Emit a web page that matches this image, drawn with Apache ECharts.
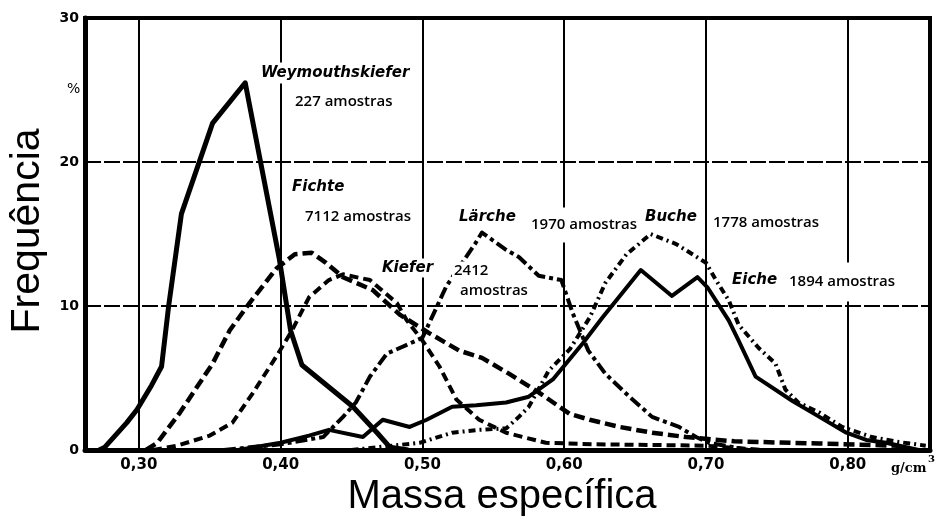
<!DOCTYPE html>
<html><head><meta charset="utf-8">
<script src="https://cdn.jsdelivr.net/npm/echarts@6/dist/echarts.min.js"></script>
<style>html,body{margin:0;padding:0;background:#fff}#c{width:939px;height:520px}</style>
</head><body><div id="c"></div>
<script>
// ---- data ----
const xTicks = [0.30, 0.40, 0.50, 0.60, 0.70, 0.80];
const yTicks = [0, 10, 20, 30];
const seriesNames = ['Weymouthskiefer', 'Fichte', 'Kiefer', 'Lärche', 'Buche', 'Eiche'];
const sampleCounts = ['227', '7112', '2412', '1970', '1778', '1894'];

const weymouth = [[0.272,0],[0.276,0.2],[0.2915,1.9],[0.2986,2.8],[0.309,4.5],[0.316,5.8],[0.321,10.0],[0.330,16.4],[0.352,22.7],[0.375,25.5],[0.399,13.3],[0.407,8.3],[0.415,5.9],[0.451,3.0],[0.468,1.2],[0.477,0.2],[0.49,0]];
const fichte = [[0.305,0],[0.313,0.5],[0.329,2.6],[0.352,6.0],[0.364,8.3],[0.378,10.2],[0.397,12.6],[0.41,13.6],[0.422,13.7],[0.432,13.0],[0.444,12.0],[0.465,11.1],[0.484,9.4],[0.505,8.1],[0.526,6.9],[0.542,6.4],[0.561,5.3],[0.582,4.0],[0.604,2.5],[0.618,2.1],[0.639,1.6],[0.662,1.2],[0.686,0.9],[0.72,0.6],[0.78,0.45],[0.835,0.3],[0.84,0]];
const kiefer = [[0.31,0],[0.327,0.3],[0.35,1.0],[0.366,1.9],[0.38,3.9],[0.397,6.5],[0.408,8.3],[0.42,10.6],[0.434,11.8],[0.444,12.2],[0.463,11.8],[0.482,10.2],[0.489,9.0],[0.50,7.6],[0.512,5.8],[0.524,3.5],[0.54,2.1],[0.559,1.2],[0.587,0.5],[0.62,0.4],[0.70,0.3],[0.74,0]];
const laerche = [[0.36,0],[0.40,0.4],[0.43,0.9],[0.444,2.3],[0.453,3.3],[0.463,5.1],[0.475,6.7],[0.489,7.3],[0.50,7.8],[0.517,11.4],[0.537,14.3],[0.542,15.1],[0.559,13.9],[0.568,13.4],[0.582,12.1],[0.598,11.8],[0.606,9.5],[0.617,6.9],[0.629,5.3],[0.646,3.7],[0.662,2.3],[0.681,1.6],[0.693,0.9],[0.702,0.5],[0.73,0]];
const buche = [[0.45,0],[0.498,0.5],[0.521,1.2],[0.54,1.4],[0.559,1.5],[0.568,2.3],[0.575,3.0],[0.589,5.5],[0.604,7.0],[0.618,9.2],[0.629,11.6],[0.644,13.6],[0.661,15.0],[0.679,14.3],[0.70,13.0],[0.707,11.8],[0.716,10.4],[0.723,8.7],[0.737,7.1],[0.749,6.0],[0.756,4.2],[0.765,3.3],[0.78,2.6],[0.796,1.6],[0.817,0.9],[0.836,0.55],[0.848,0.4],[0.855,0.3]];
const eiche = [[0.37,0],[0.40,0.5],[0.42,1.0],[0.434,1.4],[0.458,0.9],[0.472,2.1],[0.491,1.6],[0.503,2.1],[0.521,3.0],[0.538,3.1],[0.559,3.3],[0.575,3.7],[0.592,4.9],[0.613,7.4],[0.627,9.2],[0.654,12.5],[0.676,10.7],[0.694,12.0],[0.701,11.3],[0.716,9.0],[0.723,7.6],[0.735,5.1],[0.761,3.4],[0.78,2.3],[0.799,1.2],[0.813,0.7],[0.827,0.5],[0.85,0]];

// ---- chart ----
const chart = echarts.init(document.getElementById('c'), null, {renderer: 'canvas'});
const fmt = v => v.toFixed(2).replace('.', ',');

function line(name, data, width, type) {
  return {
    name, type: 'line', data, symbol: 'none', smooth: false, z: 5,
    lineStyle: {color: '#000', width, type, cap: 'butt', join: 'round'},
    emphasis: {disabled: true}
  };
}

const nameFont = 'italic bold 15px "DejaVu Sans"';
const countFont = '600 15px "Open Sans"';
function txt(text, x, y, font, extra) {
  return {
    type: 'text', z: 100,
    style: Object.assign({text, x, y, font, fill: '#000', textVerticalAlign: 'middle',
      backgroundColor: '#fff', padding: [3, 3]}, extra || {})
  };
}

chart.setOption({
  backgroundColor: '#fff',
  animation: false,
  grid: {left: 85, right: 9, top: 18, bottom: 70, show: true, borderColor: '#000', borderWidth: 4, containLabel: false},
  xAxis: {
    type: 'value', min: 0.262, max: 0.858,
    axisLine: {show: true, onZero: false, lineStyle: {color: '#000', width: 5}},
    axisTick: {show: false, customValues: xTicks},
    axisLabel: {customValues: xTicks, formatter: fmt, color: '#000', fontFamily: 'DejaVu Sans', fontWeight: 'bold', fontSize: 15, margin: 8},
    splitLine: {show: true, lineStyle: {color: '#000', width: 2}}
  },
  yAxis: {
    type: 'value', min: yTicks[0], max: yTicks[yTicks.length - 1], interval: 10,
    axisLine: {show: true, lineStyle: {color: '#000', width: 5}},
    axisTick: {show: false},
    axisLabel: {color: '#000', fontFamily: 'DejaVu Sans', fontWeight: 'bold', fontSize: 14, margin: 6},
    splitLine: {show: true, lineStyle: {color: '#000', width: 2, type: [16, 3]}}
  },
  series: [
    line(seriesNames[0], weymouth, 5, 'solid'),
    line(seriesNames[1], fichte, 4.5, [11, 5]),
    line(seriesNames[2], kiefer, 4, [9, 5]),
    line(seriesNames[3], laerche, 4, [12, 4, 4, 4]),
    line(seriesNames[4], buche, 4, [7, 4, 2, 4]),
    line(seriesNames[5], eiche, 4, 'solid')
  ],
  graphic: [
    txt(seriesNames[0], 258, 73, nameFont),
    txt(sampleCounts[0] + ' amostras', 292, 102, countFont),
    txt(seriesNames[1], 290, 187, nameFont, {padding: [2, 2]}),
    txt(sampleCounts[1] + ' amostras', 303, 217, countFont, {padding: [2, 2]}),
    txt(seriesNames[2], 380, 268, nameFont, {padding: [2, 2]}),
    txt(sampleCounts[2], 452, 271, countFont, {padding: [2, 2]}),
    txt('amostras', 458, 291, countFont, {padding: [2, 2]}),
    txt(seriesNames[3], 457, 217, nameFont, {padding: [2, 2]}),
    txt(sampleCounts[3] + ' amostras', 528, 225, countFont, {padding: [10, 3]}),
    txt(seriesNames[4], 643, 217, nameFont, {padding: [2, 2]}),
    txt(sampleCounts[4] + ' amostras', 710, 223, countFont, {padding: [8, 3]}),
    txt(seriesNames[5], 730, 280, nameFont, {padding: [3, 2]}),
    txt(sampleCounts[5] + ' amostras', 786, 282, countFont, {padding: [12, 3]}),
    txt('%', 64, 89, '14px "DejaVu Sans"', {backgroundColor: null}),
    txt('g/cm', 891, 469, 'bold 13px "DejaVu Serif"', {backgroundColor: null, padding: 0}),
    txt('3', 928, 459, 'bold 10px "DejaVu Serif"', {backgroundColor: null, padding: 0}),
    {type: 'text', z: 100, x: 28, y: 231, rotation: Math.PI / 2,
      style: {text: 'Frequência', x: 0, y: 0, font: '41px "Liberation Sans"', fill: '#000', textAlign: 'center', textVerticalAlign: 'middle'}},
    {type: 'text', z: 100,
      style: {text: 'Massa específica', x: 502, y: 497, font: '40px "Liberation Sans"', fill: '#000', textAlign: 'center', textVerticalAlign: 'middle'}}
  ]
});
</script>
</body></html>
